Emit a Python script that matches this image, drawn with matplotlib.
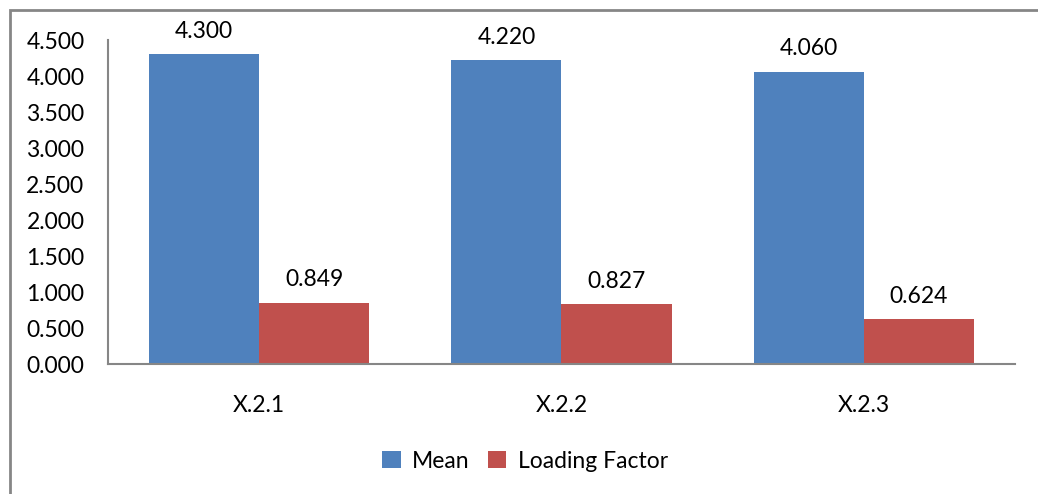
import numpy as np
import matplotlib.pyplot as plt
from matplotlib.patches import Rectangle

# === Data ===
categories = ["X.2.1", "X.2.2", "X.2.3"]
mean_values = [4.300, 4.220, 4.060]
loading_values = [0.849, 0.827, 0.624]
y_ticks = [0.0, 0.5, 1.0, 1.5, 2.0, 2.5, 3.0, 3.5, 4.0, 4.5]

BLUE = "#4F81BD"
RED = "#C0504D"
GRAY = "#868686"

plt.rcParams['font.family'] = ['Lato', 'DejaVu Sans']
FS = 16.5

fig = plt.figure(figsize=(10.38, 4.94), dpi=100)
ax = fig.add_axes([108 / 1038, 130 / 494, 907 / 1038, 324 / 494])

x = np.arange(len(categories))
w = 0.364
b1 = ax.bar(x - w / 2, mean_values, w, color=BLUE, label="Mean")
b2 = ax.bar(x + w / 2, loading_values, w, color=RED, label="Loading Factor")

for bars, vals in ((b1, mean_values), (b2, loading_values)):
    for rect, v in zip(bars, vals):
        ax.annotate(f"{v:.3f}", (rect.get_x() + rect.get_width() / 2, v),
                    xytext=(0, 9), textcoords="offset points",
                    ha="center", va="bottom", fontsize=FS)

ax.set_xlim(-0.5, len(categories) - 0.5)
ax.set_ylim(0, 4.5)
ax.set_yticks(y_ticks)
ax.set_yticklabels([f"{t:.3f}" for t in y_ticks], fontsize=FS)
ax.set_xticks(x)
ax.set_xticklabels(categories, fontsize=FS)
ax.tick_params(axis="both", length=0)
ax.tick_params(axis="y", pad=17)
ax.tick_params(axis="x", pad=22)

for side in ("top", "right"):
    ax.spines[side].set_visible(False)
for side in ("left", "bottom"):
    ax.spines[side].set_color(GRAY)
    ax.spines[side].set_linewidth(1.5)

fig.legend(handles=[b1, b2], loc="center", bbox_to_anchor=(525 / 1038, 1 - 461 / 494),
           ncol=2, frameon=False, fontsize=FS, handlelength=0.8, handleheight=0.8,
           handletextpad=0.5, columnspacing=0.8)

# outer chart border (cut off at right and bottom)
fig.patches.append(Rectangle((10 / 1038, -0.1), 1.2, 1 - 10 / 494 + 0.1,
                             transform=fig.transFigure, fill=False,
                             edgecolor=GRAY, linewidth=2))

fig.savefig("out.png", dpi=100)
